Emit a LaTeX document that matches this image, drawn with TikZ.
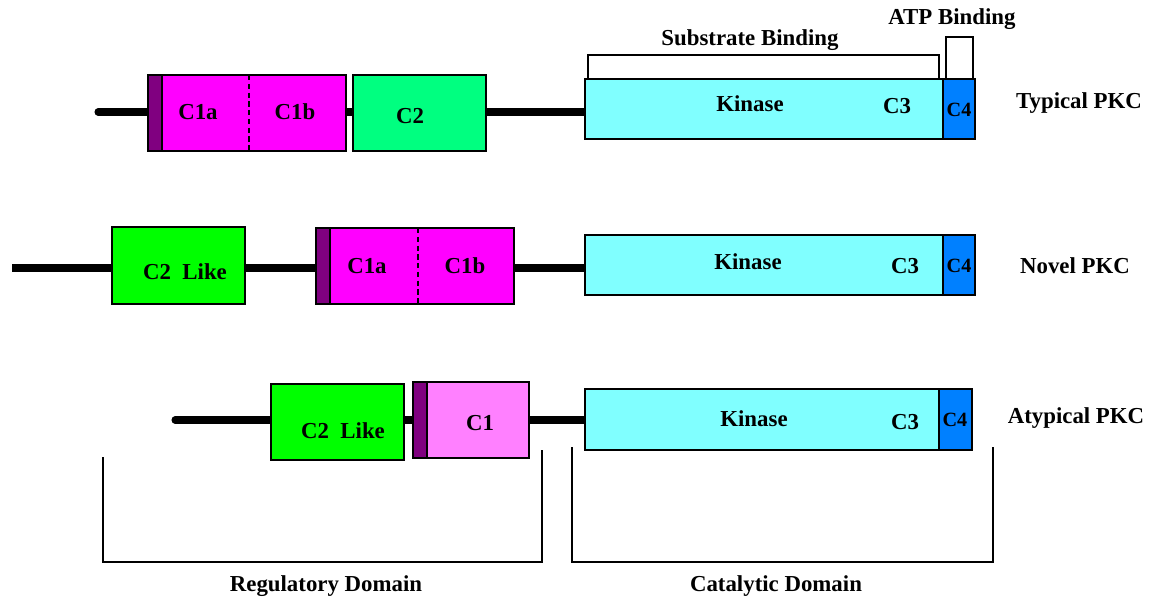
\documentclass[tikz,border=0pt]{standalone}
\usepackage{fontspec}
\setmainfont{Liberation Serif}
\usetikzlibrary{backgrounds}
\definecolor{cmag}{HTML}{FF00FF}
\definecolor{cpur}{HTML}{800080}
\definecolor{cspring}{HTML}{00FF80}
\definecolor{cgreen}{HTML}{00FF00}
\definecolor{cpink}{HTML}{FF80FF}
\definecolor{ccyan}{HTML}{80FFFF}
\definecolor{cblue}{HTML}{0080FF}
\begin{document}
\begin{tikzpicture}[x=0.02cm,y=-0.02cm,
  dom/.style={draw=black,line width=0.7pt,inner sep=0pt,outer sep=0pt,anchor=north west},
  strip/.style={dom,fill=cpur,minimum width=0.28cm},
  lbl/.style={font=\fontsize{13}{15}\selectfont\bfseries,inner sep=0pt},
  smalllbl/.style={font=\fontsize{11.5}{13}\selectfont\bfseries,inner sep=0pt},
  backbone/.style={line width=4pt,black},
  brk/.style={draw=black,line width=0.7pt},
  divider/.style={dashed,dash pattern=on 3pt off 2pt,line width=0.7pt}]
\useasboundingbox (0,0) rectangle (1160,599);
\begin{scope}[on background layer]
\fill[white] (0,0) rectangle (1160,599);
\end{scope}

% ---------- Row 1: Typical PKC ----------
\node[dom,fill=cmag,minimum width=3.96cm,minimum height=1.52cm] (ta) at (148,75) {};
\node[strip,minimum height=1.52cm] (tas) at (148,75) {};
\draw[divider] (249,75) -- (249,151);
\node[dom,fill=cspring,minimum width=2.66cm,minimum height=1.52cm] (tc2) at (353,75) {};
\node[dom,fill=ccyan,minimum width=7.16cm,minimum height=1.2cm] (tk) at (585,79) {};
\node[dom,fill=cblue,minimum width=0.64cm,minimum height=1.2cm] (tc4) at (943,79) {};
\node[lbl] (t1a) at (198,112) {C1a};
\node[lbl] (t1b) at (295,112) {C1b};
\node[lbl] (t2) at (410,116) {C2};
\node[lbl] (tkin) at (750,104) {Kinase};
\node[lbl] (tc3) at (897,106) {C3};
\node[smalllbl] (tc4l) at (959,110) {C4};
\node[lbl] (typ) at (1079,103) {Typical PKC};
\coordinate (ts) at (98,112);
\begin{scope}[on background layer]
\draw[backbone,line cap=round] (ts) -- (ts -| ta.west);
\draw[backbone] (ta.east |- ts) -- (tc2.west |- ts);
\draw[backbone] (tc2.east |- ts) -- (tk.west |- ts);
\end{scope}
% brackets
\draw[brk] (588,79) -- (588,55) -- (939,55) -- (939,79);
\draw[brk] (946,79) -- (946,37) -- (973,37) -- (973,79);
\node[lbl] (sub) at (750,40) {Substrate Binding};
\node[lbl] (atp) at (952,19) {ATP Binding};

% ---------- Row 2: Novel PKC ----------
\node[dom,fill=cgreen,minimum width=2.66cm,minimum height=1.54cm] (nc2) at (112,227) {};
\node[dom,fill=cmag,minimum width=3.96cm,minimum height=1.52cm] (na) at (316,228) {};
\node[strip,minimum height=1.52cm] (nas) at (316,228) {};
\draw[divider] (418,228) -- (418,304);
\node[dom,fill=ccyan,minimum width=7.16cm,minimum height=1.2cm] (nk) at (585,235) {};
\node[dom,fill=cblue,minimum width=0.64cm,minimum height=1.2cm] (nc4) at (943,235) {};
\node[lbl] (n2l) at (185,272) {C2\ \ Like};
\node[lbl] (n1a) at (367,266) {C1a};
\node[lbl] (n1b) at (465,266) {C1b};
\node[lbl] (nkin) at (748,262) {Kinase};
\node[lbl] (nc3) at (905,266) {C3};
\node[smalllbl] (nc4l) at (959,266) {C4};
\node[lbl] (nov) at (1075,266) {Novel PKC};
\coordinate (ns) at (12,268);
\begin{scope}[on background layer]
\draw[backbone] (ns) -- (ns -| nc2.west);
\draw[backbone] (nc2.east |- ns) -- (na.west |- ns);
\draw[backbone] (na.east |- ns) -- (nk.west |- ns);
\end{scope}

% ---------- Row 3: Atypical PKC ----------
\node[dom,fill=cgreen,minimum width=2.66cm,minimum height=1.52cm] (ac2) at (271,384) {};
\node[dom,fill=cpink,minimum width=2.32cm,minimum height=1.52cm] (ac1) at (413,382) {};
\node[strip,minimum height=1.52cm] (acs) at (413,382) {};
\node[dom,fill=ccyan,minimum width=7.08cm,minimum height=1.22cm] (ak) at (585,389) {};
\node[dom,fill=cblue,minimum width=0.66cm,minimum height=1.22cm] (ac4) at (939,389) {};
\node[lbl] (a2l) at (343,431) {C2\ \ Like};
\node[lbl] (a1) at (480,423) {C1};
\node[lbl] (akin) at (754,419) {Kinase};
\node[lbl] (ac3) at (905,422) {C3};
\node[smalllbl] (ac4l) at (955,420) {C4};
\node[lbl] (aty) at (1076,418) {Atypical PKC};
\coordinate (as) at (175,420);
\begin{scope}[on background layer]
\draw[backbone,line cap=round] (as) -- (as -| ac2.west);
\draw[backbone] (ac2.east |- as) -- (ac1.west |- as);
\draw[backbone] (ac1.east |- as) -- (ak.west |- as);
\end{scope}

% ---------- Domain brackets ----------
\draw[brk] (103,457) -- (103,562) -- (542,562) -- (542,450);
\draw[brk] (572,447) -- (572,562) -- (993,562) -- (993,447);
\node[lbl] (reg) at (326,586) {Regulatory Domain};
\node[lbl] (cat) at (776,586) {Catalytic Domain};
\end{tikzpicture}
\end{document}
